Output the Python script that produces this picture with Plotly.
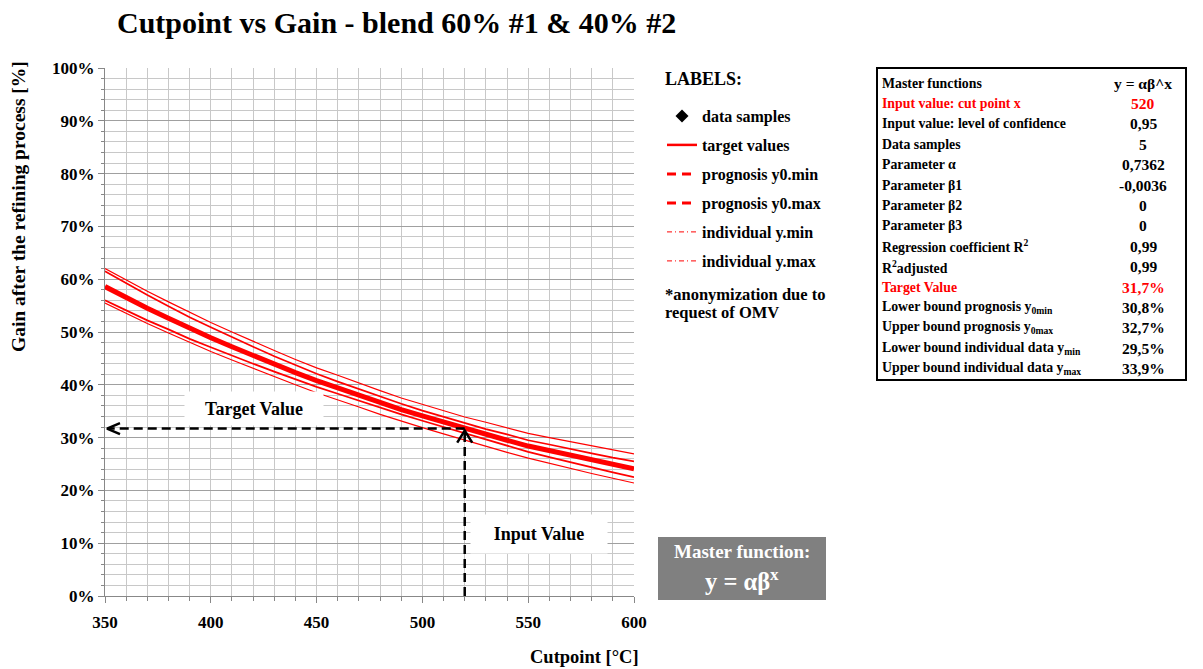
import plotly.graph_objects as go

# ---------------- data ----------------
cutpoint = [350, 360, 370, 380, 390, 400, 410, 420, 430, 440, 450, 460, 470,
            480, 490, 500, 510, 520, 530, 540, 550, 560, 570, 580, 590, 600]
target_vals = [58.6, 56.5, 54.5, 52.6, 50.7, 48.9, 47.2, 45.5, 43.9, 42.3, 40.8, 39.4, 38.0,
               36.6, 35.3, 34.1, 32.9, 31.7, 30.6, 29.5, 28.4, 27.5, 26.6, 25.7, 24.9, 24.1]
prog_max = [61.5, 59.2, 57.0, 54.9, 52.8, 50.9, 49.0, 47.2, 45.4, 43.7, 42.1, 40.6, 39.2,
            37.7, 36.4, 35.1, 33.9, 32.7, 31.6, 30.6, 29.5, 28.7, 27.8, 27.0, 26.2, 25.5]
prog_min = [56.0, 54.1, 52.2, 50.5, 48.7, 47.1, 45.5, 44.0, 42.5, 41.0, 39.6, 38.3, 37.0,
            35.6, 34.4, 33.2, 32.0, 30.8, 29.7, 28.5, 27.3, 26.3, 25.3, 24.3, 23.4, 22.5]
ind_max = [62.0, 59.8, 57.7, 55.7, 53.7, 51.8, 50.0, 48.2, 46.5, 44.8, 43.2, 41.8, 40.3,
           38.9, 37.5, 36.3, 35.1, 33.9, 32.9, 31.8, 30.8, 30.0, 29.2, 28.4, 27.6, 26.9]
ind_min = [55.5, 53.5, 51.6, 49.8, 48.0, 46.3, 44.7, 43.1, 41.5, 40.0, 38.5, 37.2, 35.8,
           34.4, 33.1, 31.9, 30.7, 29.5, 28.4, 27.2, 26.1, 25.1, 24.2, 23.2, 22.3, 21.4]

input_value = 520
target_value = 31.7

y_ticks = [0, 10, 20, 30, 40, 50, 60, 70, 80, 90, 100]
x_ticks = [350, 400, 450, 500, 550, 600]

table_labels = ["Master functions", "Input value: cut point x", "Input value: level of confidence",
                "Data samples", "Parameter α", "Parameter β1", "Parameter β2", "Parameter β3",
                "Regression coefficient R<sup>2</sup>", "R<sup>2</sup>adjusted", "Target Value",
                "Lower bound prognosis y<sub>0min</sub>", "Upper bound prognosis y<sub>0max</sub>",
                "Lower bound individual data y<sub>min</sub>",
                "Upper bound individual data y<sub>max</sub>"]
table_values = ["y = αβ^x", "520", "0,95", "5", "0,7362", "-0,0036", "0", "0", "0,99", "0,99",
                "31,7%", "30,8%", "32,7%", "29,5%", "33,9%"]
table_red_rows = [1, 10]

# ---------------- layout helpers ----------------
W, H = 1203, 669
L, R, T, B = 105, 634, 68, 596
XMIN, XMAX, YMIN, YMAX = 350, 600, 0, 100
SERIF = "Liberation Serif, Times New Roman, serif"
RED = "#FF0000"


def px(x):
    return (x - L) / (R - L)


def py(y):
    return (B - y) / (B - T)


ux = (XMAX - XMIN) / (R - L)   # data units per pixel (x)
uy = (YMAX - YMIN) / (B - T)   # data units per pixel (y)

fig = go.Figure()

# curves
fig.add_trace(go.Scatter(x=cutpoint, y=ind_max, mode="lines", line=dict(color=RED, width=1.2),
                         showlegend=False, hoverinfo="skip"))
fig.add_trace(go.Scatter(x=cutpoint, y=ind_min, mode="lines", line=dict(color=RED, width=1.2),
                         showlegend=False, hoverinfo="skip"))
fig.add_trace(go.Scatter(x=cutpoint, y=prog_max, mode="lines", line=dict(color=RED, width=1.7),
                         showlegend=False, hoverinfo="skip"))
fig.add_trace(go.Scatter(x=cutpoint, y=prog_min, mode="lines", line=dict(color=RED, width=1.7),
                         showlegend=False, hoverinfo="skip"))
fig.add_trace(go.Scatter(x=cutpoint, y=target_vals, mode="lines", line=dict(color=RED, width=5),
                         showlegend=False, hoverinfo="skip"))

# dashed guide arrows
dash_style = dict(color="black", width=2.5, dash="9px,5px")
fig.add_trace(go.Scatter(x=[input_value, XMIN + 4 * ux], y=[target_value, target_value],
                         mode="lines", line=dash_style, showlegend=False, hoverinfo="skip"))
fig.add_trace(go.Scatter(x=[input_value, input_value], y=[YMIN, target_value - 2 * uy],
                         mode="lines", line=dash_style, showlegend=False, hoverinfo="skip"))
head = dict(color="black", width=2.5)
fig.add_trace(go.Scatter(x=[XMIN + 2 * ux + 13 * ux, XMIN + 2 * ux, XMIN + 2 * ux + 13 * ux],
                         y=[target_value + 5.5 * uy, target_value, target_value - 5.5 * uy],
                         mode="lines", line=head, showlegend=False, hoverinfo="skip"))
fig.add_trace(go.Scatter(x=[input_value - 7.5 * ux, input_value, input_value + 7.5 * ux],
                         y=[target_value - 2 * uy - 12 * uy, target_value - 2 * uy,
                            target_value - 2 * uy - 12 * uy],
                         mode="lines", line=head, showlegend=False, hoverinfo="skip"))

# legend-only traces
leg = [
    ("data samples", dict(mode="markers", marker=dict(symbol="diamond", color="black", size=10))),
    ("target values", dict(mode="lines", line=dict(color=RED, width=2.5))),
    ("prognosis y0.min", dict(mode="lines", line=dict(color=RED, width=3, dash="9px,6px"))),
    ("prognosis y0.max", dict(mode="lines", line=dict(color=RED, width=3, dash="9px,6px"))),
    ("individual y.min", dict(mode="lines", line=dict(color=RED, width=1, dash="5px,3px,1px,3px"))),
    ("individual y.max", dict(mode="lines", line=dict(color=RED, width=1, dash="5px,3px,1px,3px"))),
]
for i, (name, kw) in enumerate(leg):
    fig.add_trace(go.Scatter(x=[None], y=[None], name=name, legendgroup=f"g{i}", **kw))

annotations = []
shapes = []


def note(x, y, text, size, color="black", xanchor="left", **kw):
    annotations.append(dict(xref="paper", yref="paper", x=px(x), y=py(y), xanchor=xanchor,
                            yanchor="middle", text=text, showarrow=False,
                            font=dict(family=SERIF, size=size, color=color), **kw))


# legend side labels
note(663, 79, "<b>LABELS:</b>", 18)
note(663, 294, "<b>*anonymization due to</b>", 16.5)
note(663, 312, "<b>request of OMV</b>", 16.5)

# Axis titles
note(584, 657, "<b>Cutpoint [°C]</b>", 18.5, xanchor="center")
note(18, 207, "<b>Gain after the refining process [%]</b>", 19.5, xanchor="center",
     textangle=-90)

# Target / Input labels
note(254, 408, "<b>Target Value</b>", 18, xanchor="center", bgcolor="white",
     width=136, height=31)
note(539, 534, "<b>Input Value</b>", 18, xanchor="center", bgcolor="white",
     width=134, height=36)

# Master function box
shapes.append(dict(type="rect", xref="paper", yref="paper", x0=px(658), x1=px(826),
                   y0=py(600), y1=py(537), fillcolor="#808080", line=dict(width=0)))
note(742, 551, "<b>Master function:</b>", 19, color="white", xanchor="center")
note(742, 580, "<b>y = αβ<sup>x</sup></b>", 24.5, color="white", xanchor="center")

# Table
shapes.append(dict(type="rect", xref="paper", yref="paper", x0=px(877), x1=px(1186),
                   y0=py(380), y1=py(68), line=dict(color="black", width=2),
                   fillcolor="rgba(0,0,0,0)"))
row0, row_h = 83, 20.4
for i, (lab, val) in enumerate(zip(table_labels, table_values)):
    col = RED if i in table_red_rows else "black"
    yy = row0 + i * row_h
    note(880, yy, f"<b>{lab}</b>", 13.8, color=col)
    note(1143, yy, f"<b>{val}</b>", 15.5, color=col, xanchor="center")

fig.update_layout(
    width=W, height=H,
    margin=dict(l=L, r=W - R, t=T, b=H - B, autoexpand=False),
    paper_bgcolor="white", plot_bgcolor="white",
    title=dict(text="<b>Cutpoint vs Gain - blend 60% #1 & 40% #2</b>", xref="container",
               yref="container", x=117 / W, xanchor="left", y=1 - 22 / H, yanchor="middle",
               font=dict(family=SERIF, size=30, color="black")),
    showlegend=True,
    legend=dict(xref="container", yref="container", x=662 / W, xanchor="left",
                y=1 - 99 / H, yanchor="top", bgcolor="rgba(0,0,0,0)", borderwidth=0,
                tracegroupgap=5.2, traceorder="grouped",
                font=dict(family=SERIF, size=16, color="black", weight="bold")),
    annotations=annotations,
    shapes=shapes,
    xaxis=dict(range=[XMIN, XMAX], tickvals=x_ticks, ticktext=[str(v) for v in x_ticks],
               showgrid=True, gridcolor="#c8c8c8", gridwidth=1,
               minor=dict(dtick=10, showgrid=True, gridcolor="#c8c8c8", gridwidth=1,
                          ticks="outside", ticklen=4, tickcolor="#888888"),
               ticks="outside", ticklen=6, tickcolor="#888888", ticklabelstandoff=5,
               showline=True, linecolor="#888888", linewidth=1, zeroline=False,
               tickfont=dict(family=SERIF, size=17, color="black", weight="bold"),
               fixedrange=True),
    yaxis=dict(range=[YMIN, YMAX], tickvals=y_ticks, ticktext=[f"{v}%" for v in y_ticks],
               showgrid=True, gridcolor="#a0a0a0", gridwidth=1,
               minor=dict(dtick=2, showgrid=True, gridcolor="#c8c8c8", gridwidth=1,
                          ticks="outside", ticklen=3, tickcolor="#888888"),
               ticks="outside", ticklen=6, tickcolor="#888888",
               showline=True, linecolor="#888888", linewidth=1, zeroline=False,
               tickfont=dict(family=SERIF, size=17, color="black", weight="bold"),
               fixedrange=True),
)

fig.write_html("out.html", config={"displayModeBar": False},
               post_script="document.body.style.margin='0';document.body.style.overflow='hidden';")
